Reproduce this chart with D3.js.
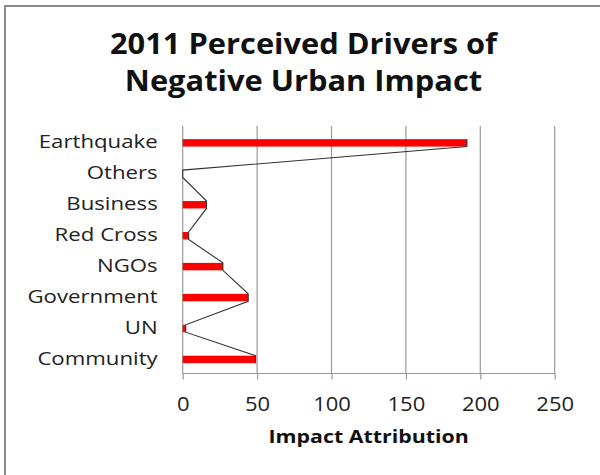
<!DOCTYPE html>
<html>
<head>
<meta charset="utf-8">
<script src="https://cdn.jsdelivr.net/npm/d3@7"></script>
<style>
  html, body { margin: 0; padding: 0; background: #fff; }
  svg { display: block; }
</style>
</head>
<body>
<svg id="chart" width="600" height="475"></svg>
<script>
// ---- data ----
const categories = ["Earthquake", "Others", "Business", "Red Cross", "NGOs", "Government", "UN", "Community"];
const values = [191, 0, 16, 4, 27, 44, 2, 49];
const xTicks = [0, 50, 100, 150, 200, 250];
const titleLines = ["2011 Perceived Drivers of", "Negative Urban Impact"];
const xAxisTitle = "Impact Attribution";

// ---- layout ----
const plot = { left: 182.7, right: 554.7, top: 126, bottom: 373.5 };
const font = "'Open Sans', 'DejaVu Sans', sans-serif";

const svg = d3.select("#chart");

// horizontally widen a text element by a factor (keeps it real text)
function widen(sel, k) {
  sel.each(function () {
    const n = this.getComputedTextLength();
    d3.select(this).attr("textLength", n * k).attr("lengthAdjust", "spacingAndGlyphs");
  });
}

// outer frame
svg.append("rect")
  .attr("x", 5).attr("y", 6)
  .attr("width", 640).attr("height", 520)
  .attr("fill", "#fff")
  .attr("stroke", "#8c8c8c").attr("stroke-width", 2);

const x = d3.scaleLinear().domain([0, 250]).range([plot.left, plot.right]);
const y = d3.scaleBand().domain(categories).range([plot.top, plot.bottom]).padding(0);
const bw = y.bandwidth();
const barOff = bw * 0.425, barH = bw * 0.24;

// gridlines
svg.append("g").selectAll("line").data(xTicks).join("line")
  .attr("x1", d => x(d)).attr("x2", d => x(d))
  .attr("y1", plot.top).attr("y2", plot.bottom)
  .attr("stroke", "#9a9a9a").attr("stroke-width", 1.2);

// bottom axis
const xAxis = d3.axisBottom(x).tickValues(xTicks).tickSize(6).tickPadding(17).tickSizeOuter(0);
const gx = svg.append("g").attr("transform", `translate(0,${plot.bottom})`).call(xAxis);
gx.select(".domain").attr("stroke", "#9a9a9a").attr("stroke-width", 1.2)
  .attr("d", `M${plot.left - 0.5},0H${plot.right + 0.5}`);
gx.selectAll(".tick line").attr("stroke", "#9a9a9a").attr("stroke-width", 1.2);
gx.selectAll(".tick text")
  .attr("font-family", font).attr("font-size", 20).attr("fill", "#222")
  .call(widen, 1.1);

// category labels
const yAxis = d3.axisLeft(y).tickSize(0).tickPadding(25);
const gy = svg.append("g").attr("transform", `translate(${plot.left},0)`).call(yAxis);
gy.select(".domain").remove();
gy.selectAll(".tick text")
  .attr("font-family", font).attr("font-size", 18.5).attr("fill", "#222")
  .attr("dy", "0.37em")
  .call(widen, 1.2);

// bars
svg.append("g").selectAll("rect").data(categories).join("rect")
  .attr("x", x(0))
  .attr("y", d => y(d) + barOff)
  .attr("width", (d, i) => x(values[i]) - x(0))
  .attr("height", barH)
  .attr("fill", "#ff0000");

// line tracing bar ends
const pts = [];
categories.forEach((c, i) => {
  pts.push([x(values[i]), y(c) + barOff]);
  pts.push([x(values[i]), y(c) + barOff + barH]);
});
svg.append("path")
  .attr("d", d3.line()(pts))
  .attr("fill", "none")
  .attr("stroke", "#333").attr("stroke-width", 1.1);

// title
const titleY = [54, 91];
const tts = svg.append("g").selectAll("text").data(titleLines).join("text")
  .attr("x", 303.5).attr("y", (d, i) => titleY[i])
  .attr("text-anchor", "middle")
  .attr("font-family", font).attr("font-weight", "bold")
  .attr("font-size", 28.5).attr("fill", "#111")
  .text(d => d);
const n0 = tts.nodes()[0].getComputedTextLength();
tts.call(widen, 387 / n0);

// axis title
svg.append("text")
  .attr("x", (plot.left + plot.right) / 2).attr("y", 443)
  .attr("text-anchor", "middle")
  .attr("font-family", font).attr("font-weight", "bold")
  .attr("font-size", 17.5).attr("fill", "#111")
  .text(xAxisTitle)
  .call(widen, 1.22);
</script>
</body>
</html>
